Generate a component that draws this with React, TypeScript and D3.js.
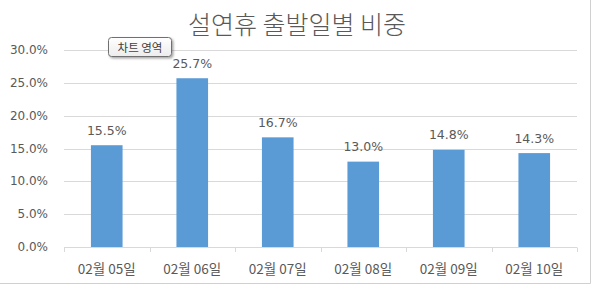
import React from "react";
import * as d3 from "d3";

const categories = ["02월 05일", "02월 06일", "02월 07일", "02월 08일", "02월 09일", "02월 10일"];
const values = [15.5, 25.7, 16.7, 13.0, 14.8, 14.3];
const yTicks = [0, 5, 10, 15, 20, 25, 30];
const title = "설연휴 출발일별 비중";
const tooltipText = "차트 영역";

const W = 595;
const H = 287;
const FONT = "'Noto Sans CJK KR', 'Malgun Gothic', sans-serif";
const NUMFONT = "'DejaVu Sans', 'Noto Sans CJK KR', sans-serif";
const TXT = "#595959";

export default function App() {
  const x = d3.scaleBand<string>().domain(categories).range([64, 577]).paddingInner(0.63).paddingOuter(0.315);
  const xb = d3.scaleBand<string>().domain(categories).range([64, 577]);
  const y = d3.scaleLinear().domain([0, 30]).range([247, 50]);

  return (
    <svg width={W} height={H} style={{ position: "absolute", left: 0, top: 0, background: "#fff" }}>
      <defs>
        <filter id="sh" x="-20%" y="-30%" width="150%" height="180%">
          <feDropShadow dx="1.5" dy="1.5" stdDeviation="1" floodColor="#000" floodOpacity="0.35" />
        </filter>
        <linearGradient id="tg" x1="0" y1="0" x2="0" y2="1">
          <stop offset="0" stopColor="#ffffff" />
          <stop offset="1" stopColor="#ececec" />
        </linearGradient>
      </defs>
      <rect x={0} y={0} width={W} height={H} fill="#fff" />
      {/* outer border */}
      <line x1={590.5} x2={590.5} y1={0} y2={283.5} stroke="#d0d0d0" />
      <line x1={0} x2={590.5} y1={283.5} y2={283.5} stroke="#d0d0d0" />

      <text x={297} y={23} textAnchor="middle" dominantBaseline="central" fontFamily={FONT} fontWeight={300} fontSize={25} fill={TXT}>
        {title}
      </text>

      {yTicks.map((t) => (
        <g key={t}>
          {t > 0 && <line x1={64} x2={577} y1={Math.round(y(t)) + 0.5} y2={Math.round(y(t)) + 0.5} stroke="#d9d9d9" />}
          <text x={48} y={y(t)} textAnchor="end" dominantBaseline="central" fontFamily={NUMFONT} fontSize={12} fill={TXT}>
            {t.toFixed(1) + "%"}
          </text>
        </g>
      ))}

      {categories.map((c, i) => (
        <g key={c}>
          <rect x={x(c)} y={y(values[i])} width={x.bandwidth()} height={y(0) - y(values[i])} fill="#5b9bd5" />
          <text x={x(c)! + x.bandwidth() / 2} y={y(values[i]) - 15} textAnchor="middle" dominantBaseline="central" fontFamily={NUMFONT} fontSize={12.5} fill={TXT}>
            {values[i].toFixed(1) + "%"}
          </text>
          <text x={xb(c)! + xb.bandwidth() / 2} y={268} textAnchor="middle" dominantBaseline="central" fontFamily={FONT} fontSize={13.5} fill={TXT}>
            {c}
          </text>
        </g>
      ))}

      {/* x axis */}
      <line x1={64} x2={577} y1={247.5} y2={247.5} stroke="#d9d9d9" />
      {[...categories.map((c) => xb(c)!), 577].map((v, i) => (
        <line key={i} x1={Math.round(v) + 0.5} x2={Math.round(v) + 0.5} y1={247.5} y2={252} stroke="#d9d9d9" />
      ))}

      {/* tooltip */}
      <g filter="url(#sh)">
        <rect x={108.5} y={37.5} width={63} height={19} rx={3} fill="url(#tg)" stroke="#707070" />
      </g>
      <text x={140} y={47} textAnchor="middle" dominantBaseline="central" fontFamily={FONT} fontSize={11.5} fill="#404040">
        {tooltipText}
      </text>
    </svg>
  );
}
